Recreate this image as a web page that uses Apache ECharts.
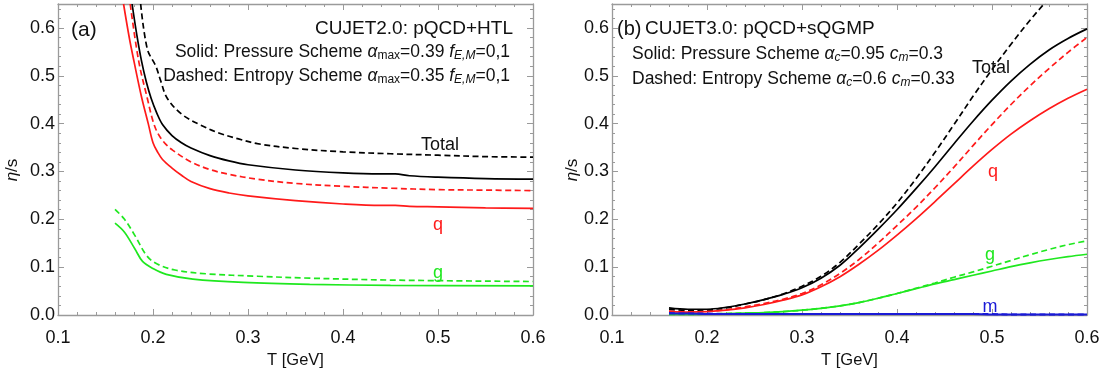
<!DOCTYPE html>
<html><head><meta charset="utf-8">
<script src="https://cdn.jsdelivr.net/npm/echarts@6/dist/echarts.min.js"></script>
<style>html,body{margin:0;padding:0;background:#fff;}#c{width:1103px;height:374px;}</style>
</head><body><div id="c"></div>
<script>
// ---------- Panel (a): CUJET2.0, [T, eta/s] pairs ----------
const aTotalP = [[0.178,0.65],[0.183,0.585],[0.188,0.53],[0.193,0.487],[0.198,0.453],[0.204,0.422],[0.21,0.398],[0.22,0.375],[0.23,0.36],[0.24,0.349],[0.26,0.333],[0.28,0.322],[0.3,0.314],[0.35,0.303],[0.4,0.297],[0.44,0.295],[0.455,0.295],[0.47,0.291],[0.5,0.288],[0.55,0.285],[0.6,0.284]];
const aTotalE = [[0.187,0.65],[0.194,0.556],[0.203,0.52],[0.208,0.49],[0.215,0.453],[0.23,0.42],[0.249,0.398],[0.27,0.38],[0.29,0.368],[0.31,0.358],[0.35,0.348],[0.4,0.341],[0.45,0.337],[0.5,0.334],[0.55,0.331],[0.6,0.330]];
const aQP = [[0.169,0.65],[0.175,0.58],[0.18,0.53],[0.188,0.455],[0.195,0.40],[0.2,0.36],[0.205,0.34],[0.21,0.325],[0.22,0.307],[0.23,0.292],[0.24,0.279],[0.26,0.264],[0.28,0.255],[0.3,0.249],[0.35,0.239],[0.4,0.232],[0.44,0.229],[0.455,0.229],[0.47,0.227],[0.5,0.226],[0.55,0.224],[0.6,0.223]];
const aQE = [[0.176,0.65],[0.185,0.53],[0.194,0.453],[0.2,0.405],[0.205,0.38],[0.212,0.36],[0.221,0.344],[0.24,0.32],[0.26,0.304],[0.28,0.294],[0.309,0.284],[0.35,0.275],[0.4,0.269],[0.45,0.265],[0.5,0.262],[0.55,0.261],[0.6,0.260]];
const aGP = [[0.16,0.192],[0.17,0.173],[0.181,0.138],[0.189,0.112],[0.2,0.097],[0.214,0.085],[0.242,0.075],[0.295,0.068],[0.365,0.064],[0.45,0.062],[0.6,0.061]];
const aGE = [[0.16,0.221],[0.17,0.200],[0.181,0.166],[0.193,0.125],[0.203,0.108],[0.223,0.094],[0.257,0.086],[0.31,0.081],[0.365,0.077],[0.45,0.073],[0.6,0.070]];

// ---------- Panel (b): CUJET3.0 ----------
const bT      = [0.16,0.18,0.20,0.22,0.24,0.26,0.28,0.30,0.32,0.34,0.36,0.38,0.40,0.42,0.44,0.46,0.48,0.50,0.52,0.54,0.56,0.58,0.60];
const bTotalP = [0.015,0.012,0.012,0.016,0.023,0.032,0.043,0.057,0.077,0.104,0.140,0.179,0.220,0.264,0.310,0.358,0.405,0.449,0.489,0.524,0.554,0.578,0.598];
const bTotalE = [0.012,0.010,0.011,0.015,0.023,0.032,0.044,0.060,0.081,0.110,0.148,0.189,0.234,0.285,0.340,0.398,0.457,0.513,0.566,0.616,0.662,0.706,0.748];
const bQP     = [0.007,0.006,0.007,0.010,0.015,0.022,0.031,0.042,0.059,0.080,0.106,0.135,0.167,0.201,0.237,0.274,0.311,0.346,0.378,0.406,0.431,0.453,0.472];
const bQE     = [0.008,0.007,0.008,0.011,0.017,0.024,0.033,0.045,0.063,0.087,0.116,0.150,0.187,0.225,0.266,0.309,0.354,0.398,0.440,0.479,0.515,0.549,0.580];
const bGP     = [0.001,0.001,0.002,0.003,0.004,0.005,0.007,0.010,0.014,0.019,0.026,0.035,0.045,0.055,0.065,0.074,0.083,0.092,0.101,0.109,0.116,0.122,0.127];
const bGE     = [0.001,0.001,0.002,0.003,0.004,0.005,0.007,0.010,0.014,0.019,0.026,0.035,0.045,0.056,0.067,0.079,0.090,0.102,0.114,0.126,0.137,0.147,0.155];
const bMP     = [0.003,0.003,0.002,0.002,0.002,0.002,0.002,0.002,0.002,0.002,0.002,0.002,0.002,0.002,0.002,0.002,0.002,0.001,0.001,0.001,0.001,0.001,0.001];
const bME     = [0.004,0.003,0.003,0.002,0.002,0.002,0.002,0.002,0.002,0.002,0.002,0.002,0.002,0.002,0.002,0.002,0.002,0.002,0.001,0.001,0.001,0.001,0.001];

const xTicks = {min:0.1, max:0.6, interval:0.1};
const yTicks = {min:0, max:0.65, interval:0.1};

const FONT = '"Liberation Sans", Arial, sans-serif';
const FRAME = '#9a9a9a';
const chart = echarts.init(document.getElementById('c'), null, {renderer:'canvas'});

function xAx(grid, pos, lab){
  return {type:'value', gridIndex:grid, position:pos, min:xTicks.min, max:xTicks.max, interval:xTicks.interval,
    axisLine:{show:true,onZero:false,lineStyle:{color:FRAME,width:1.3}},
    axisTick:{show:true,inside:true,length:6,lineStyle:{color:FRAME,width:1}},
    minorTick:{show:true,splitNumber:5,length:3,lineStyle:{color:FRAME,width:1}},
    splitLine:{show:false}, minorSplitLine:{show:false},
    axisLabel:{show:lab,formatter:v=>v.toFixed(1),color:'#111',fontSize:18,fontFamily:FONT,margin:14,showMinLabel:true,showMaxLabel:true},
    name:lab?'T [GeV]':'', nameLocation:'middle', nameGap:37,
    nameTextStyle:{color:'#111',fontSize:16.5,fontFamily:FONT}};
}
function yAx(grid, pos, lab){
  return {type:'value', gridIndex:grid, position:pos, min:yTicks.min, max:yTicks.max, interval:yTicks.interval,
    axisLine:{show:true,onZero:false,lineStyle:{color:FRAME,width:1.3}},
    axisTick:{show:true,inside:true,length:6,lineStyle:{color:FRAME,width:1}},
    minorTick:{show:true,splitNumber:5,length:3,lineStyle:{color:FRAME,width:1}},
    splitLine:{show:false}, minorSplitLine:{show:false},
    axisLabel:{show:lab,formatter:v=>v.toFixed(1),color:'#111',fontSize:18,fontFamily:FONT,margin:3,showMaxLabel:false}};
}
function ln(data, xi, color, dashed, w){
  return {type:'line', xAxisIndex:xi, yAxisIndex:xi, data:data, showSymbol:false, symbol:'none',
    smooth:0.35, clip:true, silent:true, animation:false,
    lineStyle:{color:color, width:w||1.7, type: dashed ? [6,3.5] : 'solid'}};
}
const zip = (xs, ys) => xs.map((x,i)=>[x, ys[i]]);

const RED='#ff1a1a', GREEN='#1fe81f', BLUE='#1a1ad6';
const rich = {
  it:{fontStyle:'italic',fontSize:17.5,fontFamily:FONT,fill:'#111'},
  sub:{fontSize:12,fontFamily:FONT,padding:[8,0,0,0],fill:'#111'},
  subi:{fontSize:12,fontStyle:'italic',fontFamily:FONT,padding:[8,0,0,0],fill:'#111'},
  ity:{fontStyle:'italic',fontSize:17,fontFamily:FONT,fill:'#111'}
};
function txt(x, y, text, opts){
  opts = opts || {};
  return {type:'text', x:x, y:y, rotation:opts.rot||0, z:100,
    style:{text:text, fill:opts.color||'#111', font:(opts.size||17.5)+'px '+FONT,
      align:opts.align||'left', verticalAlign:'middle', rich:rich}};
}

chart.setOption({
  backgroundColor:'#fff',
  animation:false,
  grid:[{left:58,top:4,width:475,height:317,containLabel:false},
        {left:612,top:4,width:475,height:317,containLabel:false}],
  xAxis:[xAx(0,'bottom',true), xAx(0,'top',false), xAx(1,'bottom',true), xAx(1,'top',false)],
  yAxis:[yAx(0,'left',true), yAx(0,'right',false), yAx(1,'left',true), yAx(1,'right',false)],
  series:[
    ln(aGE,0,GREEN,true), ln(aGP,0,GREEN,false),
    ln(aQE,0,RED,true), ln(aQP,0,RED,false),
    ln(aTotalE,0,'#000',true), ln(aTotalP,0,'#000',false),
    ln(zip(bT,bGE),2,GREEN,true), ln(zip(bT,bGP),2,GREEN,false),
    ln(zip(bT,bQE),2,RED,true), ln(zip(bT,bQP),2,RED,false),
    ln(zip(bT,bTotalE),2,'#000',true), ln(zip(bT,bTotalP),2,'#000',false),
    ln(zip(bT,bME),2,BLUE,true,2), ln(zip(bT,bMP),2,BLUE,false,2)
  ],
  graphic:[
    txt(71,30,'(a)',{size:21}),
    txt(513,29,'CUJET2.0: pQCD+HTL',{align:'right',size:19}),
    txt(510,52,'Solid: Pressure Scheme {it|α}{sub|max}=0.39 {it|f}{subi|E,M}=0,1',{align:'right'}),
    txt(510,76,'Dashed: Entropy Scheme {it|α}{sub|max}=0.35 {it|f}{subi|E,M}=0,1',{align:'right'}),
    txt(440,145,'Total',{align:'center',size:18}),
    txt(438,225,'q',{align:'center',size:18,color:RED}),
    txt(438,273,'g',{align:'center',size:18,color:GREEN}),
    txt(12,170,'{ity|η}/s',{align:'center',rot:Math.PI/2,size:17}),

    txt(617,29,'(b)',{size:20}),
    txt(645,29,'CUJET3.0: pQCD+sQGMP',{size:19}),
    txt(632,54,'Solid: Pressure Scheme {it|α}{subi|c}=0.95 {it|c}{subi|m}=0.3'),
    txt(632,79,'Dashed: Entropy Scheme {it|α}{subi|c}=0.6 {it|c}{subi|m}=0.33'),
    txt(991,68,'Total',{align:'center',size:18}),
    txt(993,172,'q',{align:'center',size:18,color:RED}),
    txt(990,255,'g',{align:'center',size:18,color:GREEN}),
    txt(990,307,'m',{align:'center',size:18,color:BLUE}),
    txt(572,170,'{ity|η}/s',{align:'center',rot:Math.PI/2,size:17})
  ]
});
</script></body></html>
